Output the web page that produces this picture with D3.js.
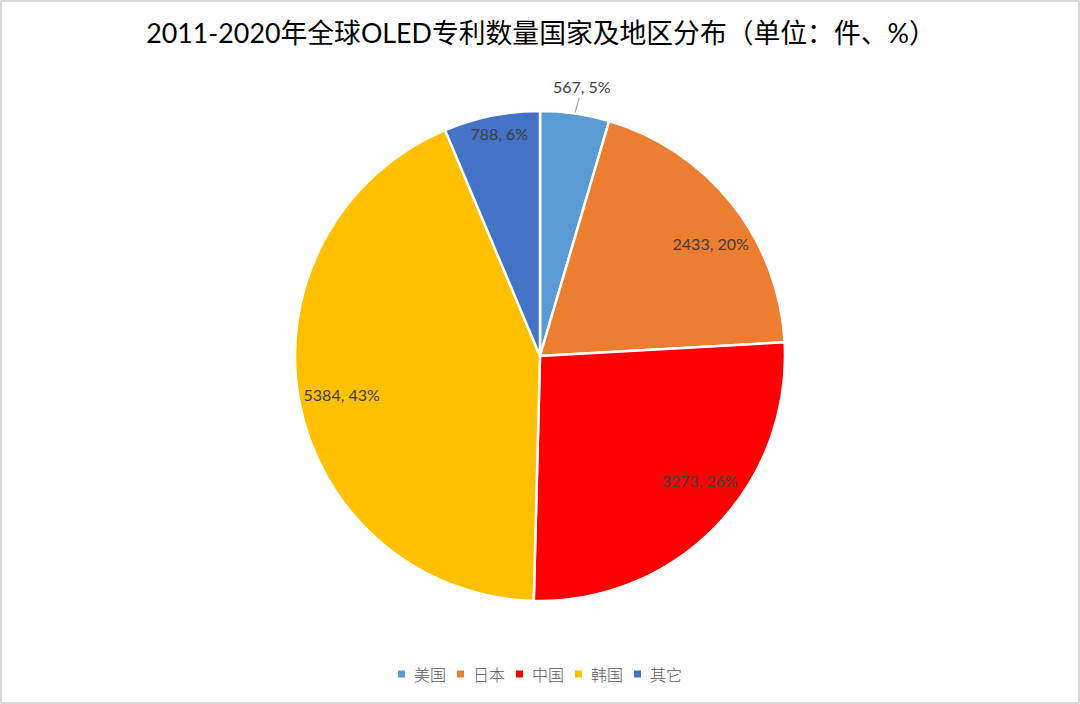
<!DOCTYPE html>
<html>
<head>
<meta charset="utf-8">
<script src="https://cdn.jsdelivr.net/npm/d3@7/dist/d3.min.js"></script>
<style>
  html, body { margin: 0; padding: 0; background: #fff; }
  svg { display: block; }
</style>
</head>
<body>
<svg id="chart" width="1080" height="704"></svg>
<script>
// ---- data ----
const categories = ["美国", "日本", "中国", "韩国", "其它"];
const values = [567, 2433, 3273, 5384, 788];
const colors = ["#5B9BD5", "#ED7D31", "#FF0000", "#FFC000", "#4472C4"];
const titleText = "2011-2020年全球OLED专利数量国家及地区分布（单位：件、%）";

const W = 1080, H = 704;
const svg = d3.select("#chart");

// border
svg.append("rect")
  .attr("x", 1).attr("y", 1).attr("width", W - 2).attr("height", H - 2)
  .attr("fill", "#fff").attr("stroke", "#d9d9d9").attr("stroke-width", 2);

// title
svg.append("text")
  .attr("x", 541).attr("y", 43)
  .attr("text-anchor", "middle")
  .attr("font-family", "Lato, 'Noto Sans CJK SC', sans-serif")
  .attr("font-size", 26.8)
  .attr("fill", "#000")
  .text(titleText);

const cx = 540, cy = 356, R = 245;
const total = d3.sum(values);
const data = categories.map((c, i) => ({ name: c, value: values[i], color: colors[i] }));

const pie = d3.pie().sort(null).value(d => d.value).startAngle(0).endAngle(2 * Math.PI);
const arcs = pie(data);
const arc = d3.arc().innerRadius(0).outerRadius(R);

const g = svg.append("g").attr("transform", `translate(${cx},${cy})`);

g.selectAll("path.slice")
  .data(arcs)
  .enter().append("path")
  .attr("class", "slice")
  .attr("d", arc)
  .attr("fill", d => d.data.color)
  .attr("stroke", "#fff")
  .attr("stroke-width", 2.5)
  .attr("stroke-linejoin", "miter");

// labels
const fmtPct = v => Math.round(v / total * 100) + "%";
const labelFont = "Lato, 'Liberation Sans', sans-serif";
function polar(a, r) { return [r * Math.sin(a), -r * Math.cos(a)]; }

arcs.forEach(d => {
  const mid = (d.startAngle + d.endAngle) / 2;
  const frac = d.data.value / total;
  const label = d.data.value + ", " + fmtPct(d.data.value);
  const t = g.append("text")
    .attr("font-family", labelFont)
    .attr("font-size", 16)
    .attr("fill", "#404040")
    .attr("text-anchor", "middle")
    .attr("dominant-baseline", "central")
    .text(label);
  const bb = t.node().getBBox();
  const hw = bb.width / 2, hh = 7;
  if (frac < 0.05) {
    // outside with leader line
    const p1 = polar(mid, R + 1), p2 = polar(mid, R * 1.065);
    g.append("line")
      .attr("x1", p1[0]).attr("y1", p1[1]).attr("x2", p2[0] + 2).attr("y2", p2[1])
      .attr("stroke", "#a6a6a6").attr("stroke-width", 1.2);
    const p = polar(mid, R * 1.11);
    t.attr("x", p[0] + 3).attr("y", p[1]);
  } else if (frac < 0.1) {
    const p = polar(mid, R * 0.925);
    t.attr("x", p[0] + 4).attr("y", p[1]);
  } else {
    const p = polar(mid, R * 0.69);
    const sx = Math.sign(p[0]);
    t.attr("x", p[0] + sx * hw + (sx < 0 ? 6 : 0)).attr("y", p[1] + Math.sign(p[1]) * hh);
  }
});

// legend
const legendItemW = 59;
const legend = svg.append("g");
const items = legend.selectAll("g.item").data(data).enter().append("g").attr("class", "item");
items.append("rect")
  .attr("width", 7).attr("height", 7)
  .attr("y", -3.5)
  .attr("fill", d => d.color);
items.append("text")
  .attr("x", 16).attr("y", 0)
  .attr("dominant-baseline", "central")
  .attr("font-family", "'Noto Sans CJK SC', sans-serif")
  .attr("font-size", 16)
  .attr("font-weight", 300)
  .attr("fill", "#595959")
  .text(d => d.name);
const totalW = legendItemW * data.length - (legendItemW - 16 - 32);
const lx0 = 540 - totalW / 2;
items.attr("transform", (d, i) => `translate(${lx0 + i * legendItemW},674)`);
</script>
</body>
</html>
